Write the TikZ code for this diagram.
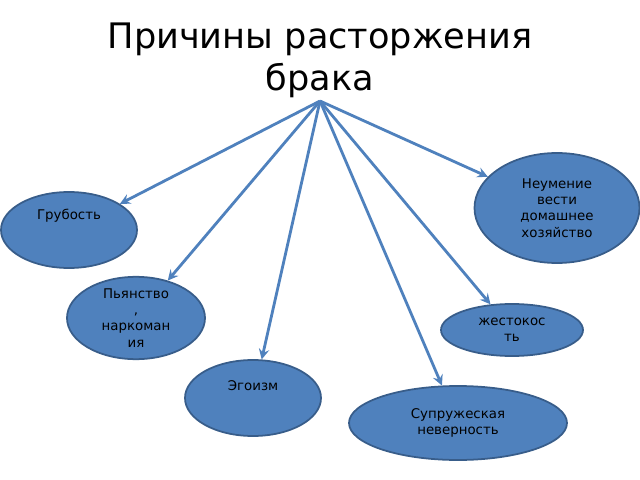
\documentclass[tikz,border=0pt]{standalone}
\usepackage{fontspec}
\setmainfont{DejaVu Sans}
\usetikzlibrary{shapes.geometric,arrows}
\definecolor{fillblue}{HTML}{4F81BD}
\definecolor{edgeblue}{HTML}{385D8A}
\begin{document}
\begin{tikzpicture}[x=0.02cm, y=-0.02cm,
    cause/.style={ellipse, draw=edgeblue, fill=fillblue, line width=1pt,
      inner sep=0pt, align=center, font=\fontsize{7.6}{9.2}\selectfont},
    link/.style={->, >=stealth, draw=fillblue, line width=1.6pt}]
  \useasboundingbox (0,0) rectangle (640,480);
  \node[font=\fontsize{20}{24}\selectfont, align=center] (title) at (320,60)
    {Причины расторжения\\брака};
  \coordinate (hub) at (320,101);

  \node[cause, minimum width=165*0.02cm, minimum height=110*0.02cm] (skill) at (557,208)
    {Неумение\\вести\\домашнее\\хозяйство};
  \node[cause, minimum width=136*0.02cm, minimum height=76*0.02cm] (rude) at (69,230)
    {Грубость\\[1.2em]};
  \node[cause, minimum width=138*0.02cm, minimum height=78*0.02cm] (drink) at (136,318)
    {Пьянство\\,\\наркоман\\ия};
  \node[cause, minimum width=142*0.02cm, minimum height=52*0.02cm] (cruel) at (512,330)
    {жестокос\\ть};
  \node[cause, minimum width=136*0.02cm, minimum height=76*0.02cm] (ego) at (253,398)
    {Эгоизм\\[0.6em]};
  \node[cause, minimum width=218*0.02cm, minimum height=74*0.02cm] (cheat) at (458,423)
    {Супружеская\\неверность};

  \draw[link] (hub) -- (skill);
  \draw[link] (hub) -- (rude);
  \draw[link] (hub) -- (drink);
  \draw[link] (hub) -- (cruel);
  \draw[link] (hub) -- (ego);
  \draw[link] (hub) -- (cheat);
\end{tikzpicture}
\end{document}
